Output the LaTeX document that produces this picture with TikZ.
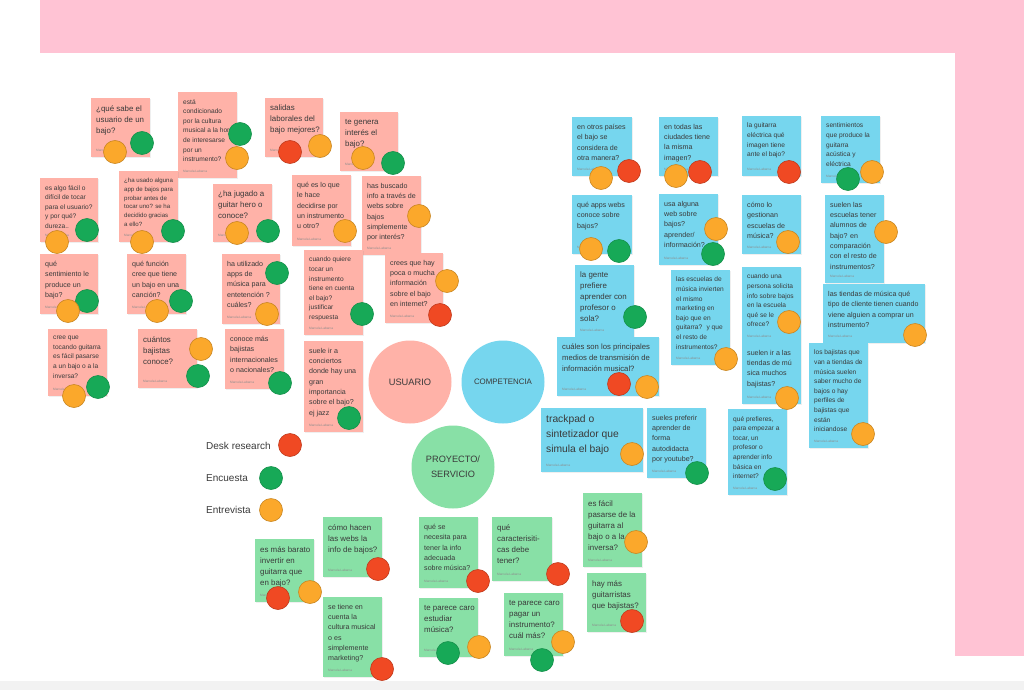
\documentclass[tikz,border=0pt]{standalone}
\usepackage{fontspec}
\setmainfont{Liberation Sans}
\usetikzlibrary{shadows}
\definecolor{bgpink}{HTML}{FFC3D4}
\definecolor{notepink}{HTML}{FFB2A8}
\definecolor{noteblue}{HTML}{76D6EE}
\definecolor{notegreen}{HTML}{88E0A6}
\definecolor{dotred}{HTML}{F04923}
\definecolor{dotgreen}{HTML}{17A957}
\definecolor{dotorange}{HTML}{FBA82B}
\definecolor{txt}{HTML}{3A3A3A}
\newcommand\nsmall{\fontsize{6.6}{9.6}\selectfont}
\newcommand\nmed{\fontsize{7.1}{10.3}\selectfont}
\newcommand\nlarge{\fontsize{7.9}{11}\selectfont}
\newcommand\nlargeb{\fontsize{7.7}{11}\selectfont}
\newcommand\nxl{\fontsize{10.3}{15}\selectfont}
\tikzset{
  notebox/.style={anchor=north west,inner sep=0pt,draw=none,
    drop shadow={shadow xshift=0.6pt,shadow yshift=-0.9pt,opacity=0.12}},
  notetext/.style={anchor=north west,inner sep=0pt,align=left,text=txt},
  author/.style={anchor=base west,inner sep=0pt,font=\fontsize{3.2}{4}\selectfont,text=black!45},
  basedot/.style={circle,minimum size=23pt,inner sep=0pt,line width=0.6pt},
  rdot/.style={basedot,fill=dotred,draw=dotred!80!black},
  gdot/.style={basedot,fill=dotgreen,draw=dotgreen!85!black},
  odot/.style={basedot,fill=dotorange,draw=dotorange!80!black},
  bigc/.style={circle,minimum size=83pt,inner sep=0pt,text=txt,align=center},
  legend/.style={anchor=west,inner sep=0pt,text=txt,font=\fontsize{10}{12}\selectfont}
}
\newcommand\sticky[8]{%
  \node[notebox,fill=#2,minimum width=#5pt,minimum height=#6pt] (#1) at (#3,#4) {};
  \node[notetext,font=#7] (#1t) at ([xshift=5pt,yshift=-7pt]#1.north west) {#8};
  \node[author] (#1a) at ([xshift=5pt,yshift=6pt]#1.south west) {Marcela Labarca};
}
\newcommand\dt[3]{\node[#1dot] (#2) at (#3) {};}
\begin{document}
\begin{tikzpicture}[x=1pt,y=-1pt]
\useasboundingbox (0,0) rectangle (1024,690);
\fill[white] (0,0) rectangle (1024,690);
\fill[bgpink] (40,0) rectangle (1024,53);
\fill[bgpink] (955,53) rectangle (1024,656);
\fill[black!5] (0,681) rectangle (1024,690);

% ---------- USUARIO (pink) ----------
\sticky{p1}{notepink}{91}{98}{59}{59}{\nlarge}{¿qué sabe el\\usuario de un\\bajo?}
\sticky{p2}{notepink}{178}{92}{59}{86}{\nsmall}{está\\condicionado\\por la cultura\\musical a la hora\\de interesarse\\por un\\instrumento?}
\sticky{p3}{notepink}{265}{98}{58}{59}{\nlarge}{salidas\\laborales del\\bajo mejores?}
\sticky{p4}{notepink}{340}{112}{58}{59}{\nlarge}{te genera\\interés el\\bajo?}
\sticky{p5}{notepink}{40}{178}{58}{64}{\nsmall}{es algo fácil o\\difícil de tocar\\para el usuario?\\y por qué?\\dureza..}
\sticky{p6}{notepink}{119}{171}{59}{71}{\fontsize{6.1}{8.7}\selectfont}{¿ha usado alguna\\app de bajos para\\probar antes de\\tocar uno? se ha\\decidido gracias\\a ello?}
\sticky{p7}{notepink}{213}{184}{59}{58}{\nlarge}{¿ha jugado a\\guitar hero o\\conoce?}
\sticky{p8}{notepink}{292}{175}{59}{71}{\nmed}{qué es lo que\\le hace\\decidirse por\\un instrumento\\u otro?}
\sticky{p9}{notepink}{362}{176}{59}{79}{\nmed}{has buscado\\info a través de\\webs sobre\\bajos\\simplemente\\por interés?}
\sticky{p10}{notepink}{40}{254}{58}{60}{\nmed}{qué\\sentimiento le\\produce un\\bajo?}
\sticky{p11}{notepink}{127}{254}{59}{60}{\nmed}{qué función\\cree que tiene\\un bajo en una\\canción?}
\sticky{p12}{notepink}{222}{254}{58}{70}{\nmed}{ha utilizado\\apps de\\música para\\entetención ?\\cuáles?}
\sticky{p13}{notepink}{304}{250}{59}{85}{\nsmall}{cuando quiere\\tocar un\\instrumento\\tiene en cuenta\\el bajo?\\justificar\\respuesta}
\sticky{p14}{notepink}{385}{253}{58}{70}{\nmed}{crees que hay\\poca o mucha\\información\\sobre el bajo\\en internet?}
\sticky{p15}{notepink}{48}{329}{59}{67}{\nsmall}{cree que\\tocando guitarra\\es fácil pasarse\\a un bajo o a la\\inversa?}
\sticky{p16}{notepink}{138}{329}{59}{59}{\nlarge}{cuántos\\bajistas\\conoce?}
\sticky{p17}{notepink}{225}{329}{59}{60}{\nmed}{conoce más\\bajistas\\internacionales\\o nacionales?}
\sticky{p18}{notepink}{304}{341}{59}{91}{\nmed}{suele ir a\\conciertos\\donde hay una\\gran\\importancia\\sobre el bajo?\\ej jazz}

% ---------- COMPETENCIA (blue) ----------
\sticky{b1}{noteblue}{572}{117}{60}{59}{\nmed}{en otros países\\el bajo se\\considera de\\otra manera?}
\sticky{b2}{noteblue}{659}{117}{59}{59}{\nmed}{en todas las\\ciudades tiene\\la misma\\imagen?}
\sticky{b3}{noteblue}{742}{116}{59}{60}{\nsmall}{la guitarra\\eléctrica qué\\imagen tiene\\ante el bajo?}
\sticky{b4}{noteblue}{821}{116}{59}{67}{\nsmall}{sentimientos\\que produce la\\guitarra\\acústica y\\eléctrica}
\sticky{b5}{noteblue}{572}{195}{60}{59}{\nmed}{qué apps webs\\conoce sobre\\bajos?}
\sticky{b6}{noteblue}{659}{194}{59}{71}{\nmed}{usa alguna\\web sobre\\bajos?\\aprender/\\información?}
\sticky{b7}{noteblue}{742}{195}{59}{59}{\nmed}{cómo lo\\gestionan\\escuelas de\\música?}
\sticky{b8}{noteblue}{825}{195}{59}{88}{\nmed}{suelen las\\escuelas tener\\alumnos de\\bajo? en\\comparación\\con el resto de\\instrumentos?}
\sticky{b9}{noteblue}{575}{265}{59}{72}{\nlarge}{la gente\\prefiere\\aprender con\\profesor o\\sola?}
\sticky{b10}{noteblue}{557}{337}{102}{59}{\nlargeb}{cuáles son los principales\\medios de transmisión de\\información musical?}
\sticky{b11}{noteblue}{671}{270}{59}{95}{\nsmall}{las escuelas de\\música invierten\\el mismo\\marketing en\\bajo que en\\guitarra?~ y que\\el resto de\\instrumentos?}
\sticky{b12}{noteblue}{742}{267}{59}{76}{\nsmall}{cuando una\\persona solicita\\info sobre bajos\\en la escuela\\qué se le\\ofrece?}
\sticky{b13}{noteblue}{742}{343}{59}{61}{\nmed}{suelen ir a las\\tiendas de mú\\sica muchos\\bajistas?}
\sticky{b14}{noteblue}{823}{284}{102}{59}{\nmed}{las tiendas de música qué\\tipo de cliente tienen cuando\\viene alguien a comprar un\\instrumento?}
\sticky{b15}{noteblue}{809}{343}{59}{105}{\nsmall}{los bajistas que\\van a tiendas de\\música suelen\\saber mucho de\\bajos o hay\\perfiles de\\bajistas que\\están\\iniciandose}
\sticky{b16}{noteblue}{541}{408}{102}{64}{\nxl}{trackpad o\\sintetizador que\\simula el bajo}
\sticky{b17}{noteblue}{647}{408}{59}{70}{\nmed}{sueles preferir\\aprender de\\forma\\autodidacta\\por youtube?}
\sticky{b18}{noteblue}{728}{409}{59}{86}{\nsmall}{qué prefieres,\\para empezar a\\tocar, un\\profesor o\\aprender info\\básica en\\internet?}

% ---------- PROYECTO/SERVICIO (green) ----------
\sticky{g1}{notegreen}{255}{539}{59}{63}{\nlarge}{es más barato\\invertir en\\guitarra que\\en bajo?}
\sticky{g2}{notegreen}{323}{517}{59}{60}{\nlarge}{cómo hacen\\las webs la\\info de bajos?}
\sticky{g3}{notegreen}{323}{597}{59}{80}{\nmed}{se tiene en\\cuenta la\\cultura musical\\o es\\simplemente\\marketing?}
\sticky{g4}{notegreen}{419}{517}{59}{71}{\nmed}{qué se\\necesita para\\tener la info\\adecuada\\sobre música?}
\sticky{g5}{notegreen}{492}{517}{60}{64}{\nlarge}{qué\\caracterisiti-\\cas debe\\tener?}
\sticky{g6}{notegreen}{419}{598}{59}{59}{\nlarge}{te parece caro\\estudiar\\música?}
\sticky{g7}{notegreen}{504}{593}{59}{63}{\nlarge}{te parece caro\\pagar un\\instrumento?\\cuál más?}
\sticky{g8}{notegreen}{583}{493}{59}{74}{\nlarge}{es fácil\\pasarse de la\\guitarra al\\bajo o a la\\inversa?}
\sticky{g9}{notegreen}{587}{573}{59}{59}{\nlarge}{hay más\\guitarristas\\que bajistas?}

% ---------- central circles ----------
\node[bigc,fill=notepink,font=\fontsize{9.3}{12}\selectfont] (usuario) at (410,382) {USUARIO};
\node[bigc,fill=noteblue,font=\fontsize{7.9}{10}\selectfont] (competencia) at (503,382) {COMPETENCIA};
\node[bigc,fill=notegreen,font=\fontsize{9.2}{14.7}\selectfont] (proyecto) at (453,467) {PROYECTO/\\SERVICIO};

% ---------- legend ----------
\node[legend] (ldesk) at (206,446) {Desk research};
\node[legend] (lenc) at (206,478) {Encuesta};
\node[legend] (lent) at (206,510) {Entrevista};
\dt{r}{ldeskd}{290,445}
\dt{g}{lencd}{271,478}
\dt{o}{lentd}{271,510}

% ---------- dots: usuario ----------
\dt{o}{p1o}{115,152} \dt{g}{p1g}{142,143}
\dt{g}{p2g}{240,134} \dt{o}{p2o}{237,158}
\dt{r}{p3r}{290,152} \dt{o}{p3o}{320,146}
\dt{o}{p4o}{363,158} \dt{g}{p4g}{393,163}
\dt{g}{p5g}{87,230} \dt{o}{p5o}{57,242}
\dt{g}{p6g}{173,231} \dt{o}{p6o}{142,242}
\dt{o}{p7o}{237,233} \dt{g}{p7g}{268,231}
\dt{o}{p8o}{345,231}
\dt{o}{p9o}{419,216}
\dt{g}{p10g}{87,301} \dt{o}{p10o}{68,311}
\dt{g}{p11g}{181,301} \dt{o}{p11o}{157,311}
\dt{g}{p12g}{277,273} \dt{o}{p12o}{267,314}
\dt{g}{p13g}{362,314}
\dt{o}{p14o}{447,281} \dt{r}{p14r}{440,315}
\dt{g}{p15g}{98,387} \dt{o}{p15o}{74,396}
\dt{o}{p16o}{201,349} \dt{g}{p16g}{198,376}
\dt{g}{p17g}{280,383}
\dt{g}{p18g}{349,418}

% ---------- dots: competencia ----------
\dt{o}{b1o}{601,178} \dt{r}{b1r}{629,171}
\dt{o}{b2o}{676,176} \dt{r}{b2r}{700,172}
\dt{r}{b3r}{789,172}
\dt{g}{b4g}{848,179} \dt{o}{b4o}{872,172}
\dt{o}{b5o}{591,249} \dt{g}{b5g}{619,251}
\dt{o}{b6o}{716,229} \dt{g}{b6g}{713,254}
\dt{o}{b7o}{788,242}
\dt{o}{b8o}{886,232}
\dt{g}{b9g}{635,317}
\dt{r}{b10r}{619,384} \dt{o}{b10o}{647,387}
\dt{o}{b11o}{726,359}
\dt{o}{b12o}{789,322}
\dt{o}{b13o}{787,398}
\dt{o}{b14o}{915,335}
\dt{o}{b15o}{863,434}
\dt{o}{b16o}{632,454}
\dt{g}{b17g}{697,473}
\dt{g}{b18g}{775,479}

% ---------- dots: proyecto ----------
\dt{r}{g1r}{278,598} \dt{o}{g1o}{310,592}
\dt{r}{g2r}{378,569}
\dt{r}{g3r}{382,669}
\dt{r}{g4r}{478,581}
\dt{r}{g5r}{558,574}
\dt{g}{g6g}{448,653} \dt{o}{g6o}{479,647}
\dt{o}{g7o}{563,642} \dt{g}{g7g}{542,660}
\dt{o}{g8o}{636,542}
\dt{r}{g9r}{632,621}
\end{tikzpicture}
\end{document}
